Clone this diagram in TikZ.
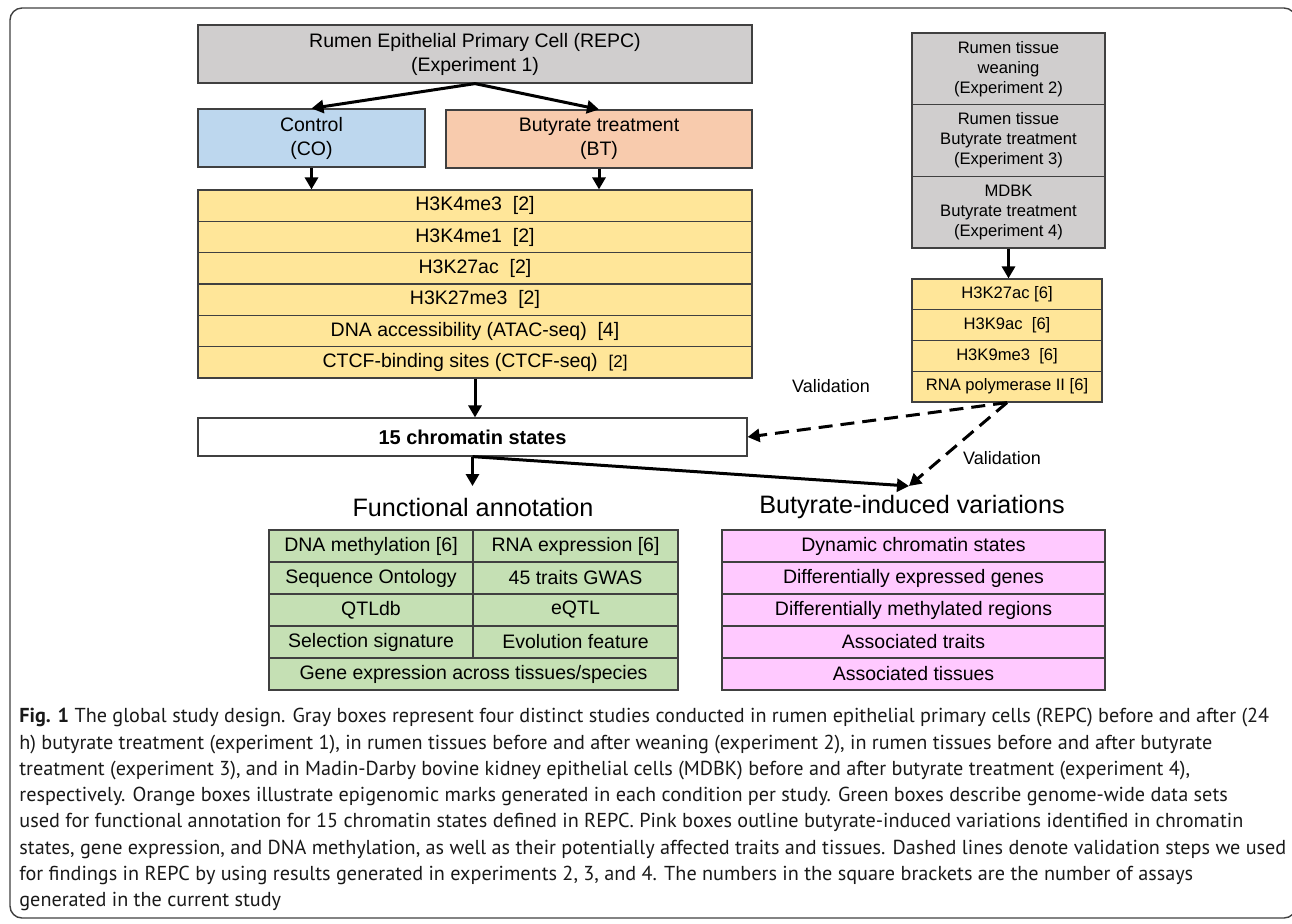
\documentclass[tikz,border=0pt]{standalone}
\usepackage{fontspec}
\setmainfont{Liberation Sans}
\newfontfamily\capfont{PT Sans}
\usetikzlibrary{arrows.meta}
\definecolor{boxgray}{HTML}{D0CECE}
\definecolor{ctrlblue}{HTML}{BDD7EE}
\definecolor{btorange}{HTML}{F8CBAD}
\definecolor{markyellow}{HTML}{FFE699}
\definecolor{annogreen}{HTML}{C5E0B4}
\definecolor{varpink}{HTML}{FFC9FF}
\definecolor{edgegray}{HTML}{404040}
\tikzset{
  cell/.style={draw=edgegray, line width=0.6pt, inner sep=0pt, align=center,
    font=\fontsize{9.75}{12}\selectfont},
  smallcell/.style={cell, font=\fontsize{8.3}{10}\selectfont},
  flow/.style={line width=1.5pt, -{Triangle[length=6pt,width=6.5pt]}},
  valid/.style={flow, dash pattern=on 7pt off 4pt},
}

\begin{document}
\begin{tikzpicture}[x=0.5pt,y=-0.5pt]
  \useasboundingbox (0,0) rectangle (1292,923);
  \draw[edgegray, line width=0.7pt, rounded corners=6pt] (10,8) rectangle (1296,918);

  \node[cell, fill=boxgray, minimum width=277pt, minimum height=29pt] (repc) at (475,54)
    {Rumen Epithelial Primary Cell (REPC)\\(Experiment 1)};
  \node[cell, fill=ctrlblue, minimum width=113.5pt, minimum height=29pt] (ctrl) at (311.5,138)
    {Control\\(CO)};
  \node[cell, fill=btorange, minimum width=153pt, minimum height=29pt] (bt) at (599,139)
    {Butyrate treatment\\(BT)};

  \foreach \txt [count=\i] in {H3K4me3~ [2], H3K4me1~ [2], H3K27ac~ [2], H3K27me3~ [2],
      DNA accessibility (ATAC-seq)~ [4], CTCF-binding sites (CTCF-seq)~ {\fontsize{8.5}{10}\selectfont[2]}}
    \node[cell, fill=markyellow, minimum width=277pt, minimum height=15.67pt] (mark\i)
      at (475,{190+31.33*(\i-0.5)}) {\txt};

  \node[cell, minimum width=274.5pt, minimum height=19pt, font=\fontsize{10}{12}\selectfont\bfseries]
    (chrom) at (472.5,437) {15 chromatin states};

  \foreach \txt [count=\i from 2] in {{Rumen tissue\\weaning\\(Experiment 2)},
      {Rumen tissue\\Butyrate treatment\\(Experiment 3)}, {MDBK\\Butyrate treatment\\(Experiment 4)}}
    \node[smallcell, fill=boxgray, minimum width=96.5pt, minimum height=35.83pt] (exp\i)
      at (1008.5,{33+71.67*(\i-1.5)}) {\txt};

  \foreach \txt [count=\i] in {H3K27ac [6], H3K9ac~ [6], H3K9me3~ [6], RNA polymerase II [6]}
    \node[smallcell, fill=markyellow, minimum width=95pt, minimum height=15.375pt] (vmark\i)
      at (1007,{279+30.75*(\i-0.5)}) {\txt};

  \node[font=\fontsize{12.6}{15}\selectfont] (fa) at (473,507) {Functional annotation};
  \node[font=\fontsize{12.6}{15}\selectfont] (biv) at (912,507) {Butyrate-induced variations};

  \foreach \lt/\rt [count=\i] in {DNA methylation [6]/RNA expression [6], Sequence Ontology/45 traits GWAS,
      QTLdb/eQTL, Selection signature/Evolution feature} {
    \node[cell, fill=annogreen, minimum width=102pt, minimum height=16pt] (annoL\i)
      at (371,{530+32*(\i-0.5)}) {\lt};
    \node[cell, fill=annogreen, minimum width=102.5pt, minimum height=16pt] (annoR\i)
      at (575.5,{530+32*(\i-0.5)}) {\rt};
  }
  \node[cell, fill=annogreen, minimum width=204.5pt, minimum height=16pt] (anno5) at (473.5,674)
    {Gene expression across tissues/species};

  \foreach \txt [count=\i] in {Dynamic chromatin states, Differentially expressed genes,
      Differentially methylated regions, Associated traits, Associated tissues}
    \node[cell, fill=varpink, minimum width=191.5pt, minimum height=16pt] (var\i)
      at (913.5,{530+32*(\i-0.5)}) {\txt};

  \node[font=\fontsize{9}{11}\selectfont] (val1) at (831,386) {Validation};
  \node[font=\fontsize{9}{11}\selectfont] (val2) at (1002,458) {Validation};

  \coordinate (faIn) at (472.5,486);
  \coordinate (bivIn) at (909,486);

  \draw[flow] (repc.south) -- (ctrl.north);
  \draw[flow] (repc.south) -- (bt.north);
  \draw[flow] (ctrl.south) -- (ctrl.south |- mark1.north);
  \draw[flow] (bt.south) -- (bt.south |- mark1.north);
  \draw[flow] (mark6.south) -- (mark6.south |- chrom.north);
  \draw[flow] (chrom.south) -- (faIn);
  \draw[flow] (chrom.south) -- (bivIn);
  \draw[flow] (exp4.south) -- (exp4.south |- vmark1.north);
  \draw[valid] (vmark4.south) -- (chrom.east);
  \draw[valid] (vmark4.south) -- (bivIn);

  \node[anchor=north west, inner sep=0pt, align=left, text=black!90,
    font=\capfont\fontsize{10.1}{13.15}\selectfont] (caption) at (19,708)
    {{\bfseries Fig. 1} The global study design. Gray boxes represent four distinct studies conducted in rumen epithelial primary cells (REPC) before and after (24\\
     h) butyrate treatment (experiment 1), in rumen tissues before and after weaning (experiment 2), in rumen tissues before and after butyrate\\
     treatment (experiment 3), and in Madin-Darby bovine kidney epithelial cells (MDBK) before and after butyrate treatment (experiment 4),\\
     respectively. Orange boxes illustrate epigenomic marks generated in each condition per study. Green boxes describe genome-wide data sets\\
     used for functional annotation for 15 chromatin states defined in REPC. Pink boxes outline butyrate-induced variations identified in chromatin\\
     states, gene expression, and DNA methylation, as well as their potentially affected traits and tissues. Dashed lines denote validation steps we used\\
     for findings in REPC by using results generated in experiments 2, 3, and 4. The numbers in the square brackets are the number of assays\\
     generated in the current study};
\end{tikzpicture}
\end{document}
